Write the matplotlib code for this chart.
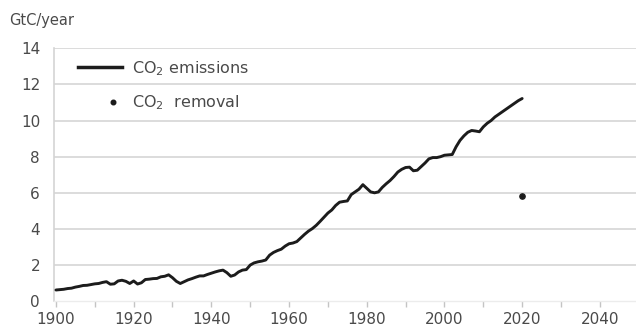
import numpy as np
import matplotlib
matplotlib.use("Agg")
import matplotlib.pyplot as plt
from matplotlib.lines import Line2D
from matplotlib.legend_handler import HandlerLine2D

# annual CO2 emissions, GtC/year
years = list(range(1900, 2021))
emissions = [
    0.62, 0.64, 0.66, 0.70, 0.72, 0.78, 0.82, 0.87, 0.88, 0.92,   # 1900s
    0.96, 0.98, 1.04, 1.08, 0.94, 0.96, 1.12, 1.16, 1.10, 0.98,   # 1910s
    1.12, 0.95, 1.02, 1.20, 1.22, 1.25, 1.26, 1.35, 1.38, 1.46,   # 1920s
    1.30, 1.10, 0.98, 1.08, 1.18, 1.25, 1.33, 1.40, 1.40, 1.48,   # 1930s
    1.55, 1.62, 1.68, 1.72, 1.58, 1.38, 1.45, 1.62, 1.72, 1.75,   # 1940s
    2.00, 2.12, 2.18, 2.22, 2.28, 2.55, 2.70, 2.80, 2.88, 3.05,   # 1950s
    3.18, 3.22, 3.30, 3.50, 3.70, 3.88, 4.02, 4.20, 4.42, 4.65,   # 1960s
    4.88, 5.05, 5.30, 5.48, 5.52, 5.55, 5.90, 6.05, 6.20, 6.45,   # 1970s
    6.25, 6.05, 6.00, 6.05, 6.30, 6.50, 6.68, 6.90, 7.15, 7.30,   # 1980s
    7.40, 7.42, 7.22, 7.25, 7.45, 7.65, 7.88, 7.95, 7.95, 8.00,   # 1990s
    8.08, 8.10, 8.12, 8.55, 8.90, 9.15, 9.35, 9.45, 9.42, 9.38,   # 2000s
    9.65, 9.85, 10.00, 10.20, 10.35, 10.50, 10.65, 10.80, 10.95, 11.10,  # 2010s
    11.22,
]
removal_year = [2020]
removal = [5.8]

xticks = list(range(1900, 2041, 20))
xticks_minor = list(range(1910, 2050, 20))
yticks = list(range(0, 15, 2))

ink = "#1c1c1c"
txt = "#4a4a4a"
grid = "#dcdcdc"


class DotRightHandler(HandlerLine2D):
    # single marker sits at the middle of xdata, so push it to the right
    def get_xdata(self, legend, xdescent, ydescent, width, height, fontsize):
        return [-xdescent + 0.6 * width, -xdescent + width], [-xdescent + 0.8 * width]


fig = plt.figure(figsize=(6.36, 3.33), dpi=100)
ax = fig.add_axes([54 / 636, 0.0955, 1 - 54 / 636, 0.855 - 0.0955])

ax.plot(years, emissions, color=ink, lw=2.1, solid_joinstyle="round",
        solid_capstyle="round", zorder=3)
ax.plot(removal_year, removal, "o", color=ink, ms=3.8, zorder=3)

ax.set_xlim(1899.5, 2049.3)
ax.set_ylim(0, 14)
ax.set_xticks(xticks)
ax.set_xticks(xticks_minor, minor=True)
ax.set_yticks(yticks)
ax.tick_params(axis="x", which="both", length=4, width=1, color="#c4c4c4",
               labelsize=11, labelcolor=txt, pad=4)
ax.tick_params(axis="y", length=0, labelsize=11, labelcolor=txt, pad=10)

for y in yticks[1:]:
    ax.axhline(y, color=grid, lw=1.4, zorder=1)

for s in ["top", "right"]:
    ax.spines[s].set_visible(False)
ax.spines["left"].set_color("#d4d4d4")
ax.spines["left"].set_linewidth(1.2)
ax.spines["bottom"].set_color("#ececec")
ax.spines["bottom"].set_linewidth(1.0)

fig.text(9 / 636, 1 - 20 / 333, "GtC/year", fontsize=10.5, color=txt,
         va="center", ha="left")

handles = [
    Line2D([], [], color=ink, lw=2.5),
    Line2D([], [], color=ink, marker="o", ls="none", ms=3.3),
]
labels = ["CO$_2$ emissions", "CO$_2$  removal"]
leg = ax.legend(handles, labels, loc="upper left", bbox_to_anchor=(0.041, 0.958),
                frameon=False, fontsize=11.5, labelcolor=txt, handlelength=2.75,
                handletextpad=0.65, labelspacing=1.0, borderpad=0,
                borderaxespad=0,
                handler_map={handles[1]: DotRightHandler()})

fig.savefig("out.png", dpi=100)
